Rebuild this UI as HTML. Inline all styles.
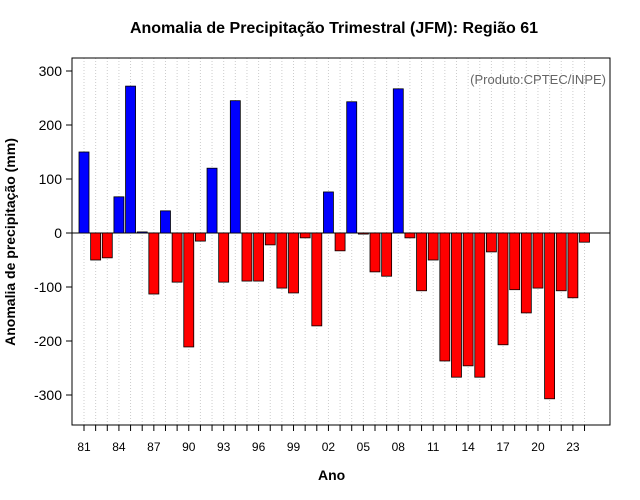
<!DOCTYPE html>
<html><head><meta charset="utf-8"><style>
body{margin:0;background:#fff;}
svg{display:block;font-family:"Liberation Sans",sans-serif;}
</style></head><body>
<svg id="c" width="640" height="500"></svg>
<script>
const years=[81,82,83,84,85,86,87,88,89,90,91,92,93,94,95,96,97,98,99,0,1,2,3,4,5,6,7,8,9,10,11,12,13,14,15,16,17,18,19,20,21,22,23,24];
const values=[150,-50,-46,67,272,2,-113,41,-91,-211,-15,120,-91,245,-89,-89,-22,-102,-111,-9,-172,76,-33,243,-2,-72,-80,267,-9,-107,-50,-237,-267,-246,-267,-35,-207,-105,-148,-102,-307,-107,-120,-17];
const yTicks=[-300,-200,-100,0,100,200,300];
const xLabelEvery=3;
const svg=document.getElementById('c');
const NS='http://www.w3.org/2000/svg';
function el(t,a,p){const e=document.createElementNS(NS,t);for(const k in a)e.setAttribute(k,a[k]);(p||svg).appendChild(e);return e;}
const L=72,R=610,T=58,B=425;
const y=v=>233-v*0.54;
const x=i=>84+i*11.64;
// grid
years.forEach((yr,i)=>{const g=el('line',{x1:x(i),x2:x(i),y1:T,y2:B,stroke:'#ccc','stroke-dasharray':'1,2','stroke-width':1});

});
// zero line
const z=el('line',{x1:L,x2:R,y1:y(0),y2:y(0),stroke:'#000','stroke-width':1});


// bars
values.forEach((v,i)=>{const top=Math.min(y(v),y(0)),h=Math.abs(y(v)-y(0));
const b=el('rect',{x:x(i)-5,y:top,width:10,height:Math.max(h,0.5),fill:v>=0?'#0000ff':'#ff0000',stroke:'#000','stroke-width':0.8});

});
// frame
const f=el('rect',{x:L,y:T,width:R-L,height:B-T,fill:'none',stroke:'#000','stroke-width':1});


// y ticks
yTicks.forEach(t=>{el('line',{x1:L-6,x2:L,y1:y(t),y2:y(t),stroke:'#000'});
const tx=el('text',{x:L-10,y:y(t)+5,'text-anchor':'end','font-size':14});tx.textContent=t;

});
// x ticks
years.forEach((yr,i)=>{el('line',{x1:x(i),x2:x(i),y1:B,y2:B+6,stroke:'#000'});
if(i%xLabelEvery===0){const tx=el('text',{x:x(i),y:B+26,'text-anchor':'middle','font-size':12});tx.textContent=String(yr).padStart(2,'0');

}});
</script>
<svg width="0" height="0"></svg>
<div style="position:absolute;left:0;top:0;width:640px;height:500px;font-family:'Liberation Sans',sans-serif;pointer-events:none">
<div style="position:absolute;top:20px;left:0;width:668px;text-align:center;font-weight:bold;font-size:16px">Anomalia de Precipitação Trimestral (JFM): Região 61</div>
<div style="position:absolute;top:72px;right:34px;font-size:13px;color:#666">(Produto:CPTEC/INPE)</div>
<div style="position:absolute;top:467px;left:318px;font-weight:bold;font-size:14px">Ano</div>
<div style="position:absolute;left:10px;top:242px;transform:translate(-50%,-50%) rotate(-90deg);transform-origin:center;white-space:nowrap;font-weight:bold;font-size:14px;margin-left:0">Anomalia de precipitação (mm)</div>
</div>
</body></html>
